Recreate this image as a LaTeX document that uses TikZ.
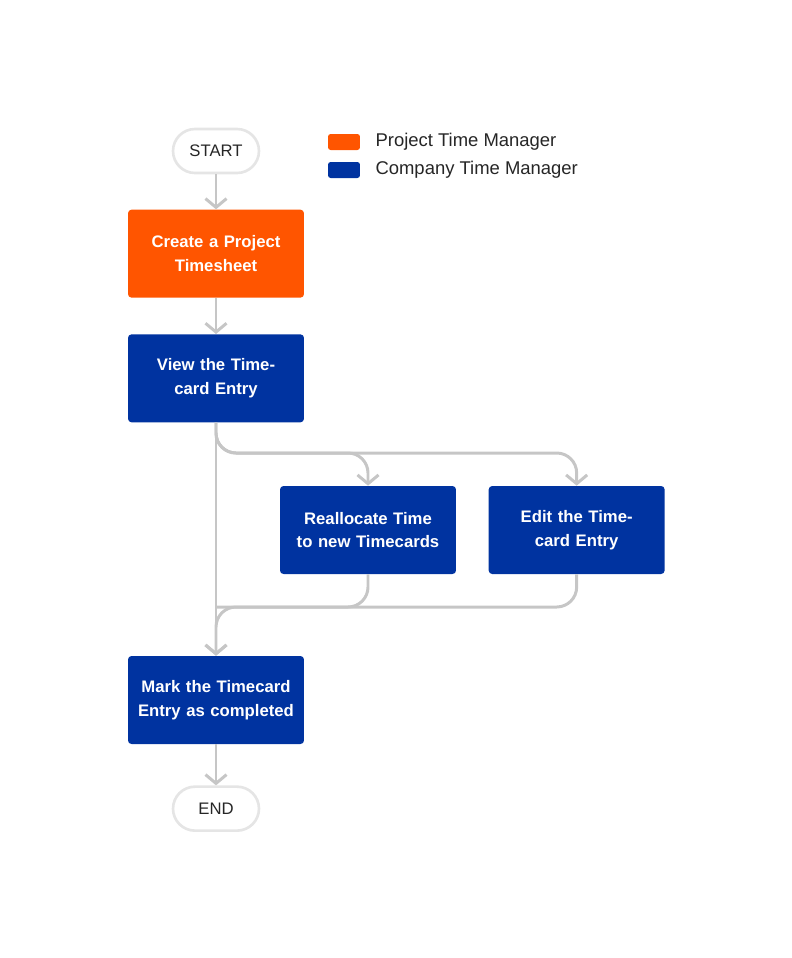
\documentclass[tikz,border=0pt]{standalone}
\usepackage{fontspec}
\setmainfont{Liberation Sans}
\usetikzlibrary{positioning, arrows.meta}
\definecolor{pmorange}{HTML}{FF5500}
\definecolor{cmblue}{HTML}{0033A0}
\definecolor{linegray}{HTML}{C6C6C6}
\tikzset{
  terminal/.style = {rectangle, rounded corners=0.44cm, minimum width=1.72cm, minimum height=0.88cm, draw=black!10, line width=1.5pt, fill=white, text=black!85, font=\fontsize{9.5}{11}\selectfont},
  task/.style = {rectangle, rounded corners=2pt, minimum width=3.52cm, minimum height=1.76cm, text width=3.2cm, align=center, text=white, font=\fontsize{9.5}{13.5}\selectfont\bfseries},
  pmtask/.style = {task, fill=pmorange},
  cmtask/.style = {task, fill=cmblue},
  connector/.style = {draw=linegray, line width=1.7pt, rounded corners=0.4cm, -{Straight Barb[length=5pt, width=12pt, line width=1.7pt]}},
  flow/.style = {draw=linegray, line width=1.7pt, rounded corners=0.4cm},
  key/.style = {rectangle, rounded corners=1.5pt, minimum width=0.64cm, minimum height=0.32cm}
}
\begin{document}
\begin{tikzpicture}[x=0.02cm, y=-0.02cm, node distance=0.7cm and 0.48cm]
    \useasboundingbox (0,0) rectangle (792,958);
    % Nodes
    \node [terminal] (start) at (216,151) {START};
    \node [pmtask, below=of start] (create) {Create a Project Timesheet};
    \node [cmtask, below=0.72cm of create] (view) {View the Timecard Entry};
    \node [cmtask] (realloc) at (368,530) {Reallocate Time to new Timecards};
    \node [cmtask, right=0.64cm of realloc] (edit) {Edit the Timecard Entry};
    \node [cmtask] (mark) at (216,700) {Mark the Timecard Entry as completed};
    \node [terminal, below=0.82cm of mark] (stop) {END};
    \coordinate (split) at (216,453);
    \coordinate (join) at (216,607);

    % Legend
    \node [key, fill=pmorange] (keypm) at (344,142) {};
    \node [key, fill=cmblue] (keycm) at (344,170) {};
    \node [right=0.18cm of keypm, font=\fontsize{10.5}{12}\selectfont, text=black!85] {Project Time Manager};
    \node [right=0.18cm of keycm, font=\fontsize{10.5}{12}\selectfont, text=black!85] {Company Time Manager};

    % Arrows
    \path [connector] (start) -- (create);
    \path [connector] (create) -- (view);
    \path [connector] (view) -- (mark);
    \path [connector] (view.south) -- (split) -| (realloc.north);
    \path [connector] (view.south) -- (split) -| (edit.north);
    \path [flow] (realloc.south) |- (join);
    \path [connector] (edit.south) |- (join) -- (mark.north);
    \path [connector] (mark) -- (stop);
\end{tikzpicture}
\end{document}
